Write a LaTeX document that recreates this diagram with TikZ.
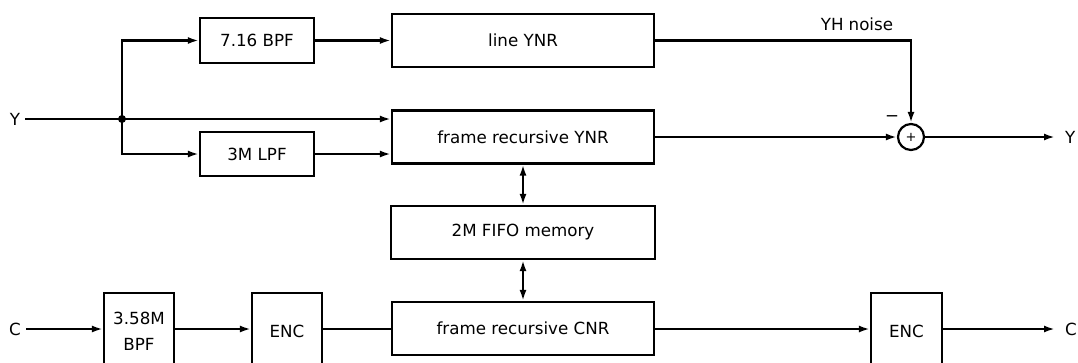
\documentclass[tikz,border=0pt]{standalone}
\usepackage{fontspec}
\setmainfont{DejaVu Sans}
\usetikzlibrary{arrows.meta,calc}
\begin{document}
\begin{tikzpicture}[x=1pt,y=-1pt,
  blk/.style={draw,line width=2.2pt,minimum width=#1,inner sep=0pt,font=\fontsize{16.7}{19}\selectfont},
  lbl/.style={inner sep=0pt,font=\fontsize{16.7}{19}\selectfont},
  wire/.style={line width=2.2pt},
  arr/.style={wire,-{Latex[length=11pt,width=7pt]}},
  darr/.style={wire,{Latex[length=11pt,width=7pt]}-{Latex[length=11pt,width=7pt]}}]
\useasboundingbox (0,0) rectangle (1078,362);
\clip (0,0) rectangle (1078,362);
% blocks
\node[blk=114pt,minimum height=45pt] (bpf7) at (257,40.5) {7.16 BPF};
\node[blk=114pt,minimum height=44pt] (lpf3) at (257,154) {3M LPF};
\node[blk=262pt,minimum height=53pt] (lynr) at (523,40.5) {line YNR};
\node[blk=262pt,minimum height=53pt] (fynr) at (523,137) {frame recursive YNR};
\node[blk=264pt,minimum height=53pt] (fifo) at (523,232.5) {2M FIFO memory};
\node[blk=262pt,minimum height=53pt] (fcnr) at (523,328.5) {frame recursive CNR};
\node[blk=70pt,minimum height=76pt,align=center,font=\fontsize{16.7}{26}\selectfont] (bpf358) at (139,331) {3.58M\\BPF};
\node[blk=70pt,minimum height=76pt] (enc1) at (287,331) {ENC};
\node[blk=71pt,minimum height=76pt] (enc2) at (906.5,331) {ENC};
\node[draw,circle,line width=2.2pt,minimum size=26pt,inner sep=0pt,font=\fontsize{13}{15}\selectfont] (sum) at (911,137) {+};
% labels
\node[lbl] (yin) at (15,119) {Y};
\node[lbl] (cin) at (15,329) {C};
\node[lbl,anchor=west] (yout) at (1065,137) {Y};
\node[lbl,anchor=west] (cout) at (1065,329) {C};
\node[lbl] (yh) at (857,24) {YH\hspace{5pt}noise};
\node[lbl] (minus) at (892,119) {−};
\coordinate (j) at (122,119);
\fill (j) circle (4pt);
% connectors
\draw[wire] (yin.east) ++(5,0) -- (j);
\draw[arr] (j) -- (fynr.west |- j);
\draw[arr] (j) |- (bpf7.west);
\draw[arr] (j) |- (lpf3.west);
\draw[arr] (bpf7.east) -- (lynr.west);
\draw[arr] (lpf3.east) -- (fynr.west |- lpf3);
\draw[arr] (lynr.east) -| (sum.north);
\draw[arr] (fynr.east) -- (sum.west);
\draw[arr] (sum.east) -- ($(yout.west)+(-10,0)$);
\draw[darr] (fynr.south) -- (fifo.north);
\draw[darr] (fifo.south) -- (fcnr.north);
\draw[arr] ($(cin.east)+(5,0)$) -- (bpf358.west |- cin);
\draw[arr] (bpf358.east |- cin) -- (enc1.west |- cin);
\draw[wire] (enc1.east |- cin) -- (fcnr.west |- cin);
\draw[arr] (fcnr.east |- cin) -- (enc2.west |- cin);
\draw[arr] (enc2.east |- cin) -- ($(cout.west)+(-10,0)$);
\end{tikzpicture}
\end{document}
